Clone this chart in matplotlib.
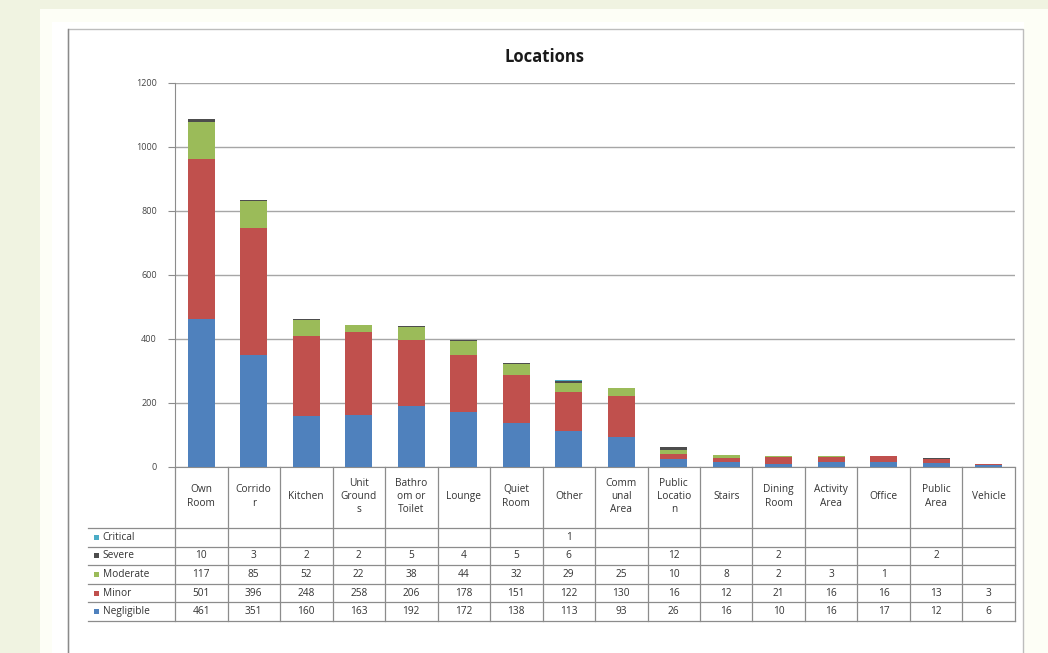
import numpy as np
import matplotlib
matplotlib.use("Agg")
import matplotlib.pyplot as plt
from matplotlib.patches import Rectangle

plt.rcParams['font.family'] = ['Open Sans', 'DejaVu Sans']

# ---- data ----
categories = ["Own Room", "Corridor", "Kitchen", "Unit Grounds", "Bathroom or Toilet",
              "Lounge", "Quiet Room", "Other", "Communal Area", "Public Location",
              "Stairs", "Dining Room", "Activity Area", "Office", "Public Area", "Vehicle"]
header_labels = ["Own\nRoom", "Corrido\nr", "Kitchen", "Unit\nGround\ns", "Bathro\nom or\nToilet",
                 "Lounge", "Quiet\nRoom", "Other", "Comm\nunal\nArea", "Public\nLocatio\nn",
                 "Stairs", "Dining\nRoom", "Activity\nArea", "Office", "Public\nArea", "Vehicle"]
nan = np.nan
negligible = [461, 351, 160, 163, 192, 172, 138, 113, 93, 26, 16, 10, 16, 17, 12, 6]
minor      = [501, 396, 248, 258, 206, 178, 151, 122, 130, 16, 12, 21, 16, 16, 13, 3]
moderate   = [117, 85, 52, 22, 38, 44, 32, 29, 25, 10, 8, 2, 3, 1, nan, nan]
severe     = [10, 3, 2, 2, 5, 4, 5, 6, nan, 12, nan, 2, nan, nan, 2, nan]
critical   = [nan, nan, nan, nan, nan, nan, nan, 1, nan, nan, nan, nan, nan, nan, nan, nan]
y_ticks = [0, 200, 400, 600, 800, 1000, 1200]

series_names = ["Negligible", "Minor", "Moderate", "Severe", "Critical"]
series_vals = [negligible, minor, moderate, severe, critical]
colors = ["#4F81BD", "#C0504D", "#9BBB59", "#4D4D4D", "#4BACC6"]

W, H = 1048, 653
fig = plt.figure(figsize=(W / 100, H / 100), dpi=100)
fig.patch.set_facecolor("#FDFEF6")

def fx(px):
    return px / W

def fy(py):
    return 1 - py / H

# page background bands and white chart panel
bg = fig.add_axes([0, 0, 1, 1], zorder=-10)
bg.set_xlim(0, W); bg.set_ylim(H, 0); bg.axis("off")
bg.add_patch(Rectangle((0, 0), 40, H, facecolor="#F0F3E1", edgecolor="none"))
bg.add_patch(Rectangle((0, 0), W, 9, facecolor="#F0F3E1", edgecolor="none"))
bg.add_patch(Rectangle((52, 22), 972, H, facecolor="white", edgecolor="none"))
bg.add_patch(Rectangle((67.5, 28.5), 955, 640, facecolor="white",
                       edgecolor="#BDBDBD", linewidth=1.0))
bg.plot([67.5, 67.5], [28.5, H], color="#8A8A8A", lw=1.0)

# ---- stacked bars ----
L, R, T, B = 175, 1015, 83, 467
ax = fig.add_axes([fx(L), fy(B), fx(R - L), (B - T) / H])
x = np.arange(len(categories))
bottom = np.zeros(len(categories))
for name, vals, c in zip(series_names, series_vals, colors):
    v = np.nan_to_num(np.array(vals, dtype=float))
    ax.bar(x, v, width=0.52, bottom=bottom, color=c, edgecolor="none", zorder=3, label=name)
    bottom += v

ax.set_xlim(-0.5, len(categories) - 0.5)
ax.set_ylim(0, 1200)
ax.set_yticks(y_ticks)
ax.set_yticklabels([str(t) for t in y_ticks], fontsize=6.5, color="#444444")
ax.set_xticks([])
ax.grid(axis="y", color="#A6A6A6", linewidth=1.0, zorder=0)
for s in ["top", "right"]:
    ax.spines[s].set_visible(False)
ax.spines["left"].set_color("#8C8C8C")
ax.spines["bottom"].set_color("#8C8C8C")
ax.tick_params(axis="y", length=5, color="#8C8C8C", pad=8)
ax.set_facecolor("none")

fig.text(fx(545), fy(57), "Locations", ha="center", va="center",
         fontsize=12, fontweight="bold", color="#1A1A1A")

# ---- data table ----
col_w = (R - L) / len(categories)
label_left = 88
x0 = -0.5 - (L - label_left) / col_w
tab_bottom = 621
tax = fig.add_axes([fx(label_left), fy(tab_bottom), fx(R - label_left), (tab_bottom - B) / H])
tax.set_xlim(x0, len(categories) - 0.5)
header_h = 61
row_h = (tab_bottom - B - header_h) / 5
tax.set_ylim(tab_bottom - B, 0)
tax.axis("off")

line_c = "#8C8C8C"
# vertical column borders
for i in range(len(categories) + 1):
    xb = i - 0.5
    tax.plot([xb, xb], [0, tab_bottom - B], color=line_c, lw=0.9, clip_on=False)
# horizontal row borders
for r in range(6):
    yb = header_h + r * row_h
    tax.plot([x0, len(categories) - 0.5], [yb, yb], color=line_c, lw=0.9, clip_on=False)

# header labels
for i, lab in enumerate(header_labels):
    tax.text(i, header_h / 2 - 1, lab, ha="center", va="center", fontsize=7.3,
             color="#333333", linespacing=1.3)

# value rows, top to bottom
row_order = ["Critical", "Severe", "Moderate", "Minor", "Negligible"]
for r, name in enumerate(row_order):
    idx = series_names.index(name)
    vals = series_vals[idx]
    yc = header_h + (r + 0.5) * row_h
    tax.add_patch(Rectangle((x0 + 0.12, yc - 2.5), 0.09, 5, facecolor=colors[idx],
                            edgecolor="none", clip_on=False))
    tax.text(x0 + 0.28, yc, name, ha="left", va="center", fontsize=7.3, color="#333333")
    for i, v in enumerate(vals):
        if not np.isnan(v):
            tax.text(i, yc, str(int(v)), ha="center", va="center", fontsize=7.3, color="#333333")

fig.savefig("out.png", dpi=100, facecolor=fig.get_facecolor())
